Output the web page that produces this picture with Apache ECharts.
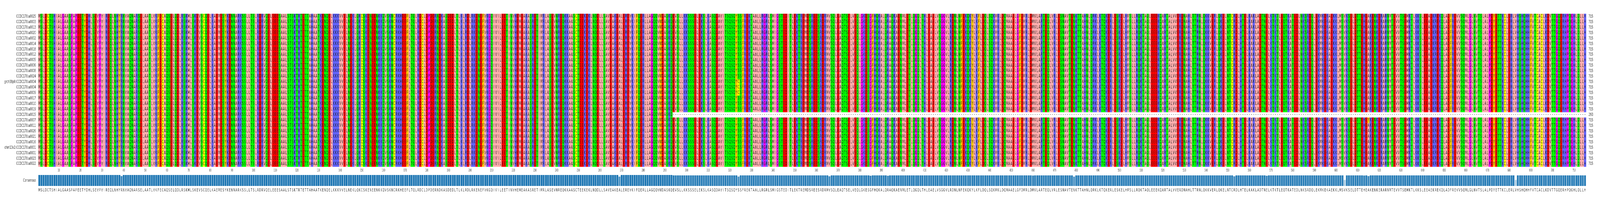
<!DOCTYPE html>
<html><head><meta charset="utf-8">
<script src="https://cdn.jsdelivr.net/npm/echarts@6/dist/echarts.min.js"></script>
<style>html,body{margin:0;padding:0;background:#fff;overflow:hidden}#c{width:7450px;height:539px;transform-origin:0 0}</style>
</head><body><div id="c"></div>
<script>
const rowNames = ["CCDC170:a0025","CCDC170:a0003","CCDC170:a0013","CCDC170:a0020","CCDC170:a0002","CCDC170:a0014","CCDC170:a0018","CCDC170:a0012","CCDC170:a0005","CCDC170:a0006","CCDC170:a0008","CCDC170:a0024","grch38p0:CCDC170:a0004","CCDC170:a0004","CCDC170:a0009","CCDC170:a0017","CCDC170:a0010","CCDC170:a0019","CCDC170:a0015","CCDC170:a0007","CCDC170:a0011","CCDC170:a0026","CCDC170:a0021","CCDC170:a0016","chm13v2:CCDC170:a0001","CCDC170:a0001","CCDC170:a0023","CCDC170:a0022"];
const consensusSeq =
 "MSLDCTSHIALG" +
 "AASPAPEETYDHLSEVPVIREQLNHYRNVAQNARSELAATLVKFECAQSELQDLRSKMLS" +
 "KEVSCQELKAEMESYKENNARKSSLLTSLRDRVQELEEESAALSTSKTRTETTAHAATKENQELKKKVVEL" +
 "NEKLQKCSKENEENKKQVSKNCRKHEEFLTQLRDCLDPDERNDKASDEDLTLKLRDLRKENEFVKGQIVIL" +
 "EETINVHEMEAKASRETIMRLASEVNREQKKAASCTEEKEKLNQDLLSAVEAKEALEREVKIFQERLLAGQQ" +
 "VWDASKQEVSLLKKSSSELEKSLKASQDAVITSQSQYSSFREKTAALLRGRLSMIGSTEDITLEKTREMDS" +
 "REESRDRMVSQLEAQTSELVEQLGKESGFHQKALQRAQKAENMLETLQGQLTHLEAELVSGGVLRDNLNFEK" +
 "QKYLKFLDQLSQKMKLDQMAAELGFDMRLDMVLARTEQLVRLESNAVTENKTTAHNLQRKLKTQKERLESK" +
 "ELHMSLLRQKTAQLEEEKQARTALVVERDNAHLTTRNLQKKVERLQKELNTCRDLHTELKAKLADTNELKT" +
 "KTLEQTKATEDLNKSRDQLEKMKEKAEKKLMSVKSELDTTEHEAKENKERARNMTEVVTSEMKTLKKSLEE" +
 "AEKREKQLADFREVVSQMLGLNVTSLALPDYETTKCLERLVHSHQHHFVTCACLKDVTTGQERHPQGHLQLLH";
// rows whose sequence stops early (row index, residue count)
const truncatedRows = [[18, 293]];
// variant residues: [row, column(1-based), residue]
const variants = [[12,324,"C"],[13,324,"C"],[14,324,"C"],[19,615,"Y"]];
// consensus conservation dips: [column, score]
const consensusDips = [[39,0.9],[269,0.85],[324,0.85],[366,0.88],[385,0.93],[393,0.93],[460,0.95],[479,0.85],[553,0.88],[568,0.93],[604,0.55],[613,0.95],[615,0.9],[683,0.55]];
const rowCounts = rowNames.map((n,i)=>{const t=truncatedRows.find(r=>r[0]===i);return t?t[1]:consensusSeq.length;});

const colors = {I:"#ffafaf",L:"#ffafaf",V:"#ffafaf",A:"#ffafaf",M:"#ffafaf",F:"#ffc800",W:"#ffc800",Y:"#ffc800",K:"#6464ff",R:"#6464ff",H:"#6464ff",D:"#ff0000",E:"#ff0000",S:"#00ff00",T:"#00ff00",N:"#00ff00",Q:"#00ff00",P:"#ff00ff",G:"#ff00ff",C:"#ffff00"};
const N = consensusSeq.length;
const cols = Array.from({length:N},(_,i)=>String(i+1));
const cells = [];
for (let r=0;r<rowNames.length;r++){
  for (let c=0;c<N;c++){
    let ch = c < rowCounts[r] ? consensusSeq[c] : "-";
    const v = variants.find(x=>x[0]===r && x[1]===c+1);
    if (v) ch = v[2];
    cells.push([c, r, ch]);
  }
}
const scores = [];
for (let c=0;c<N;c++){
  let s = 1;
  for (let r=0;r<rowNames.length;r++) if (c>=rowCounts[r]) s -= 1/rowNames.length;
  const d = consensusDips.find(x=>x[0]===c+1);
  if (d) s = Math.min(s, d[1]);
  scores.push([c, s]);
}
function mix(s){
  const t = Math.max(0, Math.min(1, (1-s)*1.4));
  const a=[31,119,180], b=[255,255,255];
  return "rgb("+a.map((v,i)=>Math.round(v+(b[i]-v)*t)).join(",")+")";
}
const el = document.getElementById('c');
const vw = window.innerWidth || 7450;
if (vw < 7450) el.style.transform = 'scale(' + (vw/7450) + ',1)';
const chart = echarts.init(el, null, {renderer:'canvas',width:7450,height:539,devicePixelRatio:1});
chart.setOption({
  animation:false,
  grid:[{left:178,right:65,top:35,height:390.6},{left:178,right:65,top:447,height:28}],
  xAxis:[
    {type:'category',gridIndex:0,data:cols,axisLine:{show:false},
     axisTick:{alignWithLabel:true,length:4,lineStyle:{color:'#333'},interval:(i)=>(i+1)%10===0},
     axisLabel:{interval:(i)=>(i+1)%10===0,fontSize:8,color:'#333',margin:6,fontFamily:'DejaVu Sans'}},
    {type:'category',gridIndex:1,data:consensusSeq.split(''),axisLine:{show:false},axisTick:{show:false},
     axisLabel:{interval:0,fontSize:11,color:'#333',margin:6,fontFamily:'DejaVu Sans'}}
  ],
  yAxis:[
    {type:'category',gridIndex:0,position:'left',data:rowNames,inverse:true,axisLine:{show:false},axisTick:{show:false},
     axisLabel:{interval:0,fontSize:11,color:'#262626',margin:11,fontFamily:'DejaVu Sans'}},
    {type:'category',gridIndex:0,position:'right',data:rowCounts.map(String),inverse:true,axisLine:{show:false},axisTick:{show:false},
     axisLabel:{interval:0,fontSize:11,color:'#262626',margin:12,align:'left',fontFamily:'DejaVu Sans'}},
    {type:'value',gridIndex:1,position:'right',min:0,max:1,show:false},
    {type:'category',gridIndex:1,position:'left',data:['Consensus'],axisLine:{show:false},axisTick:{show:false},
     axisLabel:{fontSize:11,color:'#262626',margin:11,fontFamily:'DejaVu Sans'}}
  ],
  series:[
    {type:'custom',xAxisIndex:0,yAxisIndex:0,data:cells,progressive:0,
     encode:{x:0,y:1},
     renderItem:(p,api)=>{
       const d=cells[p.dataIndex];
       const pt=api.coord([d[0],d[1]]);const sz=api.size([1,1]);
       const ch=d[2];
       const children=[];
       if(colors[ch]) children.push({type:'rect',shape:{x:pt[0]-sz[0]/2,y:pt[1]-sz[1]/2,width:sz[0]+0.6,height:sz[1]+0.6},style:{fill:colors[ch]}});
       children.push({type:'text',style:{text:ch,x:pt[0],y:pt[1],align:'center',verticalAlign:'middle',fill:'#1a1a1a',font:'11.5px "DejaVu Sans"'}});
       return {type:'group',children};
     }},
    {type:'custom',xAxisIndex:1,yAxisIndex:2,data:scores,progressive:0,
     renderItem:(p,api)=>{
       const b=api.coord([api.value(0),0]);const t=api.coord([api.value(0),api.value(1)]);const w=api.size([1,0])[0];
       return {type:'rect',shape:{x:b[0]-w/2+0.7,y:t[1],width:w-1.4,height:b[1]-t[1]},style:{fill:mix(api.value(1))}};
     }}
  ]
});
</script></body></html>
